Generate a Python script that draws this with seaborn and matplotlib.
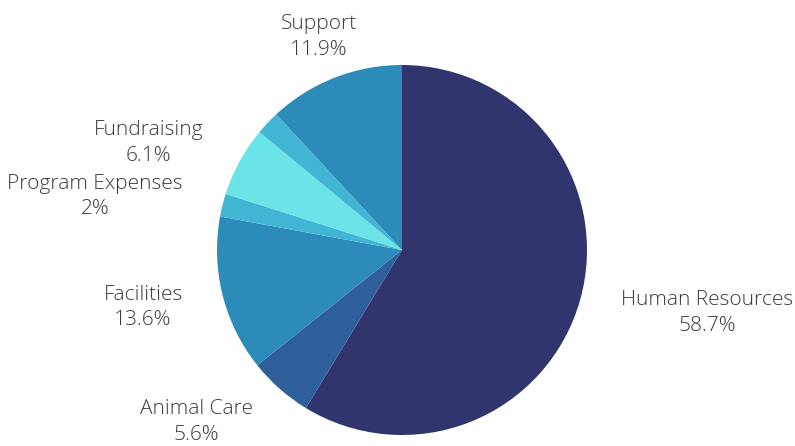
import matplotlib
matplotlib.use("Agg")
import matplotlib.pyplot as plt
import seaborn as sns
import numpy as np

categories = ["Human Resources", "Animal Care", "Facilities", "Program Expenses",
              "Fundraising", "Other", "Support"]
values = [58.7, 5.6, 13.6, 2.0, 6.1, 2.1, 11.9]
value_labels = ["58.7%", "5.6%", "13.6%", "2%", "6.1%", "", "11.9%"]
show_label = [True, True, True, True, True, False, True]

colors = ["#31356e", "#2e5f9a", "#2d8bba", "#41b6d4", "#6be4e8", "#41b6d4", "#2d8bba"]

# label anchor offsets (in pie-radius units), style only
label_xy = [(1.65, -0.34), (-1.11, -0.93), (-1.40, -0.31), (-1.66, 0.29),
            (-1.37, 0.58), (0, 0), (-0.45, 1.15)]

sns.set_theme(style="white")
plt.rcParams["font.family"] = ["Open Sans", "DejaVu Sans"]

fig = plt.figure(figsize=(7.95, 4.46), dpi=100)
ax = fig.add_axes([0, 0, 1, 1])
ax.pie(values, colors=sns.color_palette(colors), startangle=90, counterclock=False,
       radius=1.0, center=(0, 0), wedgeprops=dict(linewidth=0))
ax.set_xlim(-402 / 185, (795 - 402) / 185)
ax.set_ylim(-(446 - 250) / 185, 250 / 185)
ax.set_aspect("auto")
ax.axis("off")

for cat, vl, show, (x, y) in zip(categories, value_labels, show_label, label_xy):
    if not show:
        continue
    ax.text(x, y, f"{cat}\n{vl}", ha="center", va="center", fontsize=15,
            color="#3a3a3a", linespacing=1.38, fontweight="light")

fig.savefig("out.png", dpi=100)
